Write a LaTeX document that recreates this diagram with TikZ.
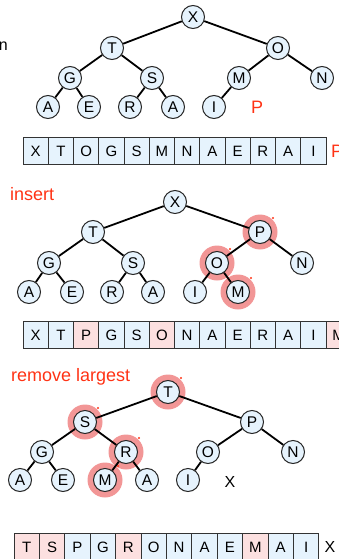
\documentclass[tikz,border=0pt]{standalone}
\usepackage{fontspec}
\setmainfont{Liberation Sans}
\usetikzlibrary{calc}
\definecolor{nodeblue}{RGB}{230,243,253}
\definecolor{cellpink}{RGB}{252,224,224}
\definecolor{hlpink}{RGB}{242,150,150}
\definecolor{redtxt}{RGB}{255,50,20}
\tikzset{
  hn/.style={circle, draw=black!85, fill=nodeblue, line width=1pt, minimum size=23pt, inner sep=0pt, font=\fontsize{15.5}{15.5}\selectfont},
  edge/.style={line width=1.8pt, black},
  cell/.style={draw=black!80, line width=0.9pt, fill=nodeblue, minimum width=25.3pt, minimum height=27pt, inner sep=0pt, font=\fontsize{15}{15}\selectfont},
  pcell/.style={cell, fill=cellpink},
  hl/.style={fill=hlpink, draw=none},
  hldot/.style={fill=redtxt, draw=none},
  redlabel/.style={text=redtxt, font=\fontsize{18}{18}\selectfont, inner sep=0pt},
  plain/.style={font=\fontsize{16}{16}\selectfont, inner sep=0pt}
}
\newcommand{\hlmark}[1]{\fill[hl] (#1) circle (17.5pt); \fill[hldot] ($(#1)+(13,-14)$) circle (1.2pt);}
\begin{document}
\begin{tikzpicture}[x=1pt,y=-1pt]
\useasboundingbox (0,0) rectangle (339,559);
\clip (0,0) rectangle (339,559);
% partial text at left
\node[plain, anchor=east] (cut) at (8,46) {n};
% ---------- tree 1 ----------
\node[hn] (aX) at (193,17) {X};
\node[hn] (aT) at (112,48) {T};
\node[hn] (aO) at (278,48) {O};
\node[hn] (aG) at (70,78) {G};
\node[hn] (aS) at (152,78) {S};
\node[hn] (aM) at (239,78) {M};
\node[hn] (aN) at (322,78) {N};
\node[hn] (aA1) at (48,107) {A};
\node[hn] (aE) at (89,107) {E};
\node[hn] (aR) at (130,107) {R};
\node[hn] (aA2) at (173,107) {A};
\node[hn] (aI) at (214,107) {I};
\node[redlabel] (aP) at (257,107) {P};
\draw[edge] (aX) -- (aT); \draw[edge] (aX) -- (aO);
\draw[edge] (aT) -- (aG); \draw[edge] (aT) -- (aS);
\draw[edge] (aO) -- (aM); \draw[edge] (aO) -- (aN);
\draw[edge] (aG) -- (aA1); \draw[edge] (aG) -- (aE);
\draw[edge] (aS) -- (aR); \draw[edge] (aS) -- (aA2);
\draw[edge] (aM) -- (aI);
% ---------- array 1 ----------
\foreach \l [count=\i from 0] in {X,T,O,G,S,M,N,A,E,R,A,I} {
  \node[cell] (c1\i) at (23+12.65+25.25*\i,151) {\l};
}
\node[redlabel] (c1p) at (337,151) {P};
% ---------- tree 2 ----------
\node[redlabel, anchor=west] (lins) at (10,194) {insert};
\coordinate (bPc) at (260,232);
\coordinate (bOc) at (217,263);
\coordinate (bMc) at (238,292);
\hlmark{bPc} \hlmark{bOc} \hlmark{bMc}
\node[hn] (bX) at (175,202) {X};
\node[hn] (bT) at (93,232) {T};
\node[hn] (bP) at (bPc) {P};
\node[hn] (bG) at (49,263) {G};
\node[hn] (bS) at (133,263) {S};
\node[hn] (bO) at (bOc) {O};
\node[hn] (bN) at (302,263) {N};
\node[hn] (bA1) at (29,292) {A};
\node[hn] (bE) at (72,292) {E};
\node[hn] (bR) at (112,292) {R};
\node[hn] (bA2) at (153,292) {A};
\node[hn] (bI) at (195,292) {I};
\node[hn] (bM) at (bMc) {M};
\draw[edge] (bX) -- (bT); \draw[edge] (bX) -- (bP);
\draw[edge] (bT) -- (bG); \draw[edge] (bT) -- (bS);
\draw[edge] (bP) -- (bO); \draw[edge] (bP) -- (bN);
\draw[edge] (bG) -- (bA1); \draw[edge] (bG) -- (bE);
\draw[edge] (bS) -- (bR); \draw[edge] (bS) -- (bA2);
\draw[edge] (bO) -- (bI); \draw[edge] (bO) -- (bM);
% ---------- array 2 ----------
\foreach \l/\s [count=\i from 0] in {X/cell,T/cell,P/pcell,G/cell,S/cell,O/pcell,N/cell,A/cell,E/cell,R/cell,A/cell,I/cell,M/pcell} {
  \node[\s] (c2\i) at (23+12.65+25.25*\i,335) {\l};
}
% ---------- tree 3 ----------
\node[redlabel, anchor=west] (lrem) at (11,377) {remove largest};
\coordinate (cTc) at (168,392);
\coordinate (cSc) at (85,422);
\coordinate (cRc) at (126,452);
\coordinate (cMc) at (105,480);
\hlmark{cTc} \hlmark{cSc} \hlmark{cRc} \hlmark{cMc}
\node[hn] (cT) at (cTc) {T};
\node[hn] (cS) at (cSc) {S};
\node[hn] (cP) at (252,422) {P};
\node[hn] (cG) at (42,452) {G};
\node[hn] (cR) at (cRc) {R};
\node[hn] (cO) at (208,452) {O};
\node[hn] (cN) at (293,452) {N};
\node[hn] (cA1) at (20,480) {A};
\node[hn] (cE) at (63,480) {E};
\node[hn] (cM) at (cMc) {M};
\node[hn] (cA2) at (147,480) {A};
\node[hn] (cI) at (188,480) {I};
\node[plain] (cX) at (230,482) {X};
\draw[edge] (cT) -- (cS); \draw[edge] (cT) -- (cP);
\draw[edge] (cS) -- (cG); \draw[edge] (cS) -- (cR);
\draw[edge] (cP) -- (cO); \draw[edge] (cP) -- (cN);
\draw[edge] (cG) -- (cA1); \draw[edge] (cG) -- (cE);
\draw[edge] (cR) -- (cM); \draw[edge] (cR) -- (cA2);
\draw[edge] (cO) -- (cI);
% ---------- array 3 ----------
\foreach \l/\s [count=\i from 0] in {T/pcell,S/pcell,P/cell,G/cell,R/pcell,O/cell,N/cell,A/cell,E/cell,M/pcell,A/cell,I/cell} {
  \node[\s] (c3\i) at (14+12.7+25.4*\i,547) {\l};
}
\node[plain] (c3x) at (330,547) {X};
\end{tikzpicture}
\end{document}
